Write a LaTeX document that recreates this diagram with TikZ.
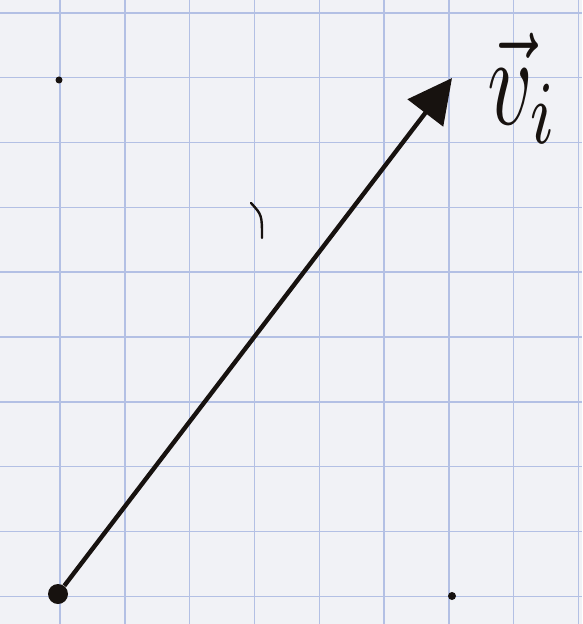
\documentclass[tikz,border=0pt]{standalone}
\usepackage{amsmath,amssymb}
\usepackage{graphicx}
\usepackage{xcolor}
\usepackage{tikz}
\usetikzlibrary{arrows.meta}
\definecolor{paper}{HTML}{F1F2F6}
\definecolor{gridblue}{HTML}{B3C0E4}
\definecolor{ink}{HTML}{17120F}

\begin{document}
\begin{tikzpicture}[x=0.5pt, y=-0.5pt,
  gridline/.style={draw=gridblue, line width=0.7pt},
  inkdot/.style={circle, fill=ink, inner sep=0pt},
  vec/.style={-{Triangle[length=22pt, width=22pt]}, line width=2.2pt, draw=ink},
  lbl/.style={text=ink, inner sep=0pt}]
\useasboundingbox (0,0) rectangle (582,624);
\fill[paper] (0,0) rectangle (582,624);
% squared paper
\foreach \k in {0,...,8} \draw[gridline] ({60+64.8*\k},0) -- ({60+64.8*\k},624);
\foreach \k in {0,...,9} \draw[gridline] (0,{13+64.8*\k}) -- (582,{13+64.8*\k});
% points
\node[inkdot, minimum size=10pt] (tail) at (58,594) {};
\node[inkdot, minimum size=3.5pt] (origin) at (59,80) {};
\node[inkdot, minimum size=4pt] (foot) at (452,596) {};
\coordinate (head) at (452,78);
% vector
\draw[vec] (tail) -- (head);
\node[lbl] (vi) at (523,88) {\scalebox{4.4}[6.4]{$\vec{v}_{i}$}};
% stray pen mark
\draw[ink, line width=1.2pt, line cap=round] (251,203) .. controls (262,215) .. (262,238);
\end{tikzpicture}
\end{document}
